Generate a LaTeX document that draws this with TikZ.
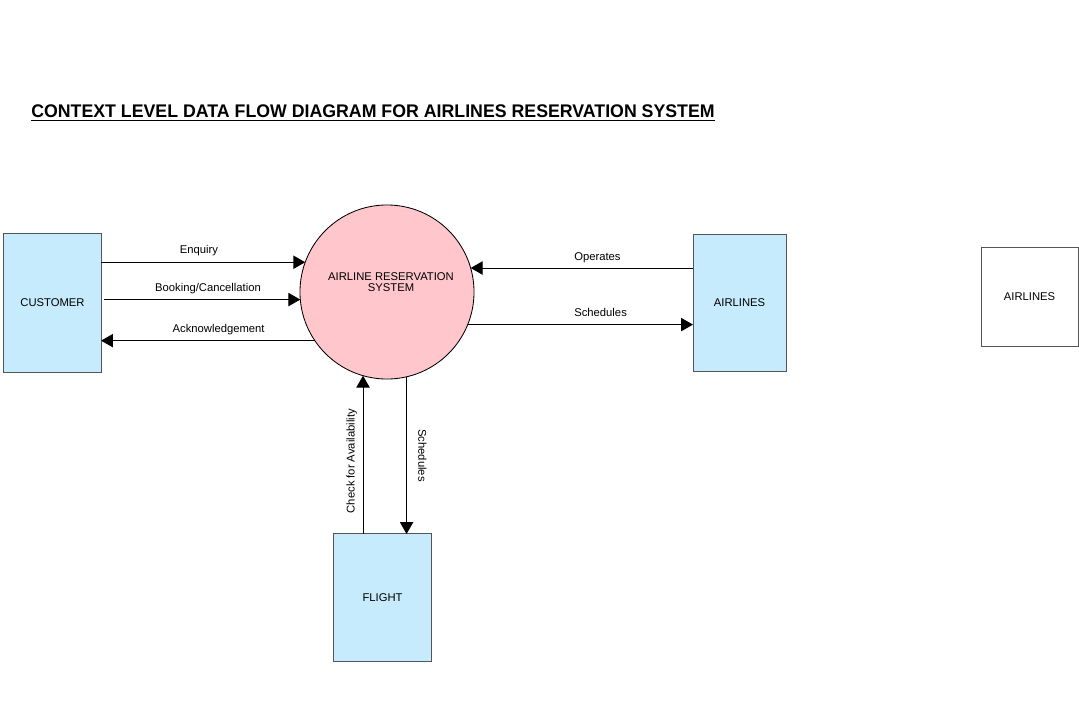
\documentclass[tikz,border=0pt]{standalone}
\usepackage{fontspec}
\setmainfont{Liberation Sans}
\usepackage{graphicx}
\usetikzlibrary{arrows.meta}
\definecolor{entityblue}{RGB}{198,235,252}
\definecolor{processpink}{RGB}{255,199,204}
\definecolor{edgegray}{RGB}{85,85,85}
\begin{document}
\begin{tikzpicture}[x=0.025cm, y=-0.025cm,
  entity/.style={draw=edgegray, line width=0.7pt, fill=entityblue, inner sep=0pt, outer sep=0pt,
    font=\fontsize{8}{9}\selectfont},
  process/.style={circle, draw=black, line width=0.6pt, fill=processpink, inner sep=0pt,
    outer sep=0pt, minimum size=4.35cm},
  flow/.style={line width=0.7pt, -{Triangle[length=8.5pt,width=9.5pt]}},
  lbl/.style={font=\fontsize{8}{9}\selectfont, inner sep=2pt}]
\useasboundingbox (0,0) rectangle (1079,709);

\node[anchor=south west, inner sep=0pt] (title) at (31,121)
  {\resizebox{17.08cm}{\height}{\fontsize{13}{15}\selectfont\bfseries\underline{CONTEXT LEVEL DATA FLOW DIAGRAM FOR AIRLINES RESERVATION SYSTEM}}};

\node[entity, minimum width=2.425cm, minimum height=3.45cm] (customer) at (52.5,303) {CUSTOMER\hspace{5pt}};
\node[process] (ars) at (387,292) {};
\node[font=\fontsize{8}{7.8}\selectfont, align=center] (arstext) at (391,282) {AIRLINE RESERVATION\\SYSTEM};
\node[entity, minimum width=2.325cm, minimum height=3.4cm] (airlines) at (739.5,303) {AIRLINES\hspace{4pt}};
\node[entity, minimum width=2.425cm, minimum height=3.175cm] (flight) at (382.5,597.5) {FLIGHT};
\node[entity, fill=white, minimum width=2.425cm, minimum height=2.45cm] (airlines2) at (1029.5,297) {AIRLINES\hspace{4pt}};

% flows customer <-> system
\draw[flow] (customer.east |- ars.160) -- node[lbl, above=2pt, pos=0.48] {Enquiry} (ars.160);
\draw[flow] ([xshift=2pt]customer.east |- ars.185) -- node[lbl, above=2pt, pos=0.53] {Booking/Cancellation} (ars.185);
\draw[flow] (ars.214) -- node[lbl, above=2pt, pos=0.45] {Acknowledgement} (customer.east |- ars.214);

% flows airlines <-> system
\draw[flow] (airlines.west |- ars.16) -- node[lbl, above=1pt, pos=0.43] {Operates} (ars.16);
\draw[flow] (ars.-22) -- node[lbl, above=3pt, pos=0.59] {Schedules} (airlines.west |- ars.-22);

% flows flight <-> system
\draw[flow] (flight.north -| ars.254) -- node[lbl, rotate=90, anchor=south, inner ysep=4pt, pos=0.46] {Check for Availability} (ars.254);
\draw[flow] (ars.283) -- node[lbl, rotate=-90, anchor=south, inner ysep=8pt, pos=0.5] {Schedules} (ars.283 |- flight.north);
\end{tikzpicture}
\end{document}
